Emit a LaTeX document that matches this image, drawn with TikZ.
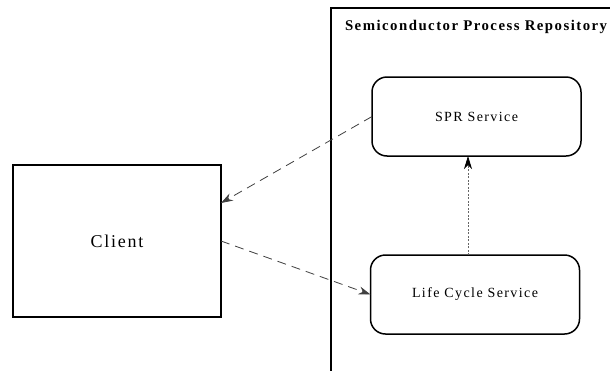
\documentclass[tikz,border=0pt]{standalone}
\usepackage{fontspec}
\setmainfont{Liberation Serif}
\newfontfamily\spacedfont{Liberation Serif}[LetterSpace=10]
\usetikzlibrary{arrows.meta,calc}
\begin{document}
\begin{tikzpicture}[x=1pt,y=-1pt,
  every node/.style={inner sep=0pt, outer sep=0pt},
  clientbox/.style={draw, line width=2.6pt, minimum width=208pt, minimum height=152pt,
    font=\spacedfont\fontsize{18}{20}\selectfont},
  servicebox/.style={draw, line width=1.5pt, rounded corners=15pt, minimum width=209pt,
    minimum height=79pt, font=\spacedfont\fontsize{14}{16}\selectfont},
  frameline/.style={line width=1.2pt},
  call/.style={line width=0.8pt, black!75, dash pattern=on 9pt off 6pt,
    -{Stealth[length=12pt,width=8pt,inset=4pt]}},
  uses/.style={line width=0.8pt, black!60, dash pattern=on 2pt off 1.5pt,
    -{Stealth[length=13pt,width=8pt,inset=4pt,black]}}
]
\useasboundingbox (0,0) rectangle (610,370);
\clip (0,0) rectangle (610,370);
\fill[white] (0,0) rectangle (610,370);

% repository package frame (open to the right and below)
\draw[frameline] (331,380) -- (331,8) -- (620,8);
\node[font=\spacedfont\bfseries\fontsize{14.8}{16}\selectfont, anchor=west] (title) at (345,27)
  {Semiconductor Process Repository};

% components
\node[clientbox] (client) at (117,241) {Client};
\node[servicebox] (spr) at (476.5,116.5) {SPR Service};
\node[servicebox] (lc) at (475,294.5) {Life Cycle Service};

% dependencies
\coordinate (clientin) at ($(client.north east)!0.25!(client.south east)$);
\draw[call] (spr.west) -- (clientin);
\draw[call] (client.east) -- (lc.west);
\coordinate (lcup) at ($(lc.north)+(-7,0)$);
\coordinate (sprdown) at ($(spr.south)+(-8.5,0)$);
\draw[uses] (lcup) -- (sprdown);
\end{tikzpicture}
\end{document}
